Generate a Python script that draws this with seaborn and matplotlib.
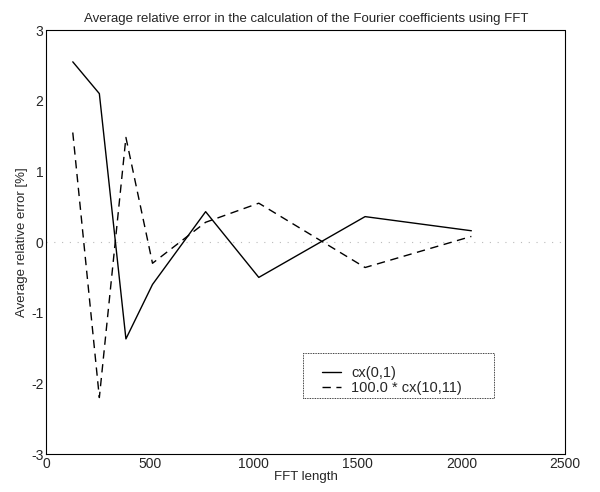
import matplotlib
matplotlib.use("Agg")
import matplotlib.pyplot as plt
from matplotlib.patches import Rectangle
import seaborn as sns
import pandas as pd

fft_length = [128, 256, 384, 512, 768, 1024, 1536, 2048]
cx01 = [2.55, 2.1, -1.37, -0.6, 0.43, -0.5, 0.36, 0.16]
cx1011_scaled = [1.55, -2.2, 1.48, -0.3, 0.28, 0.55, -0.36, 0.08]
series_labels = ["cx(0,1)", "100.0 * cx(10,11)"]
x_ticks = [0, 500, 1000, 1500, 2000, 2500]
y_ticks = [-3, -2, -1, 0, 1, 2, 3]

sns.set_theme(style="white")
plt.rcParams["font.family"] = ["Liberation Sans", "DejaVu Sans"]
plt.rcParams["axes.unicode_minus"] = False

df = pd.DataFrame({
    "FFT length": fft_length * 2,
    "err": cx01 + cx1011_scaled,
    "series": [series_labels[0]] * len(fft_length) + [series_labels[1]] * len(fft_length),
})

fig = plt.figure(figsize=(6, 4.92), dpi=100)
ax = fig.add_axes([0.077, 0.077, 0.865, 0.862])

ax.axhline(0, color="#bbbbbb", lw=0.8, ls=(0, (1, 6)), zorder=0)
sns.lineplot(data=df, x="FFT length", y="err", hue="series", style="series",
             palette=["black", "black"], dashes=[(None, None), (6, 4)],
             linewidth=1.0, ax=ax, legend=True)

ax.set_xlim(0, 2500)
ax.set_ylim(-3, 3)
ax.set_xticks(x_ticks)
ax.set_yticks(y_ticks)
ax.tick_params(direction="in", length=3, labelsize=10, color="black", pad=2)
for s in ax.spines.values():
    s.set_color("black")
    s.set_linewidth(0.8)
    s.set_linestyle((0, (1, 1)))
ax.set_xlabel("FFT length", fontsize=9.5, labelpad=0)
ax.set_ylabel("Average relative error [%]", fontsize=9.5, labelpad=2)
ax.set_title("Average relative error in the calculation of the Fourier coefficients using FFT",
             fontsize=9.5, pad=6)

leg = ax.legend(loc="center left", bbox_to_anchor=(0.532, 0.173), fontsize=10.5,
                frameon=False, handlelength=1.25, borderpad=0, labelspacing=0.05,
                borderaxespad=0, handletextpad=0.75, title=None)
ax.add_patch(Rectangle((0.495, 0.132), 0.368, 0.106, transform=ax.transAxes,
                       fill=False, edgecolor="black", linewidth=0.6,
                       linestyle=(0, (1, 1)), zorder=5))

fig.savefig("out.png", dpi=100)
